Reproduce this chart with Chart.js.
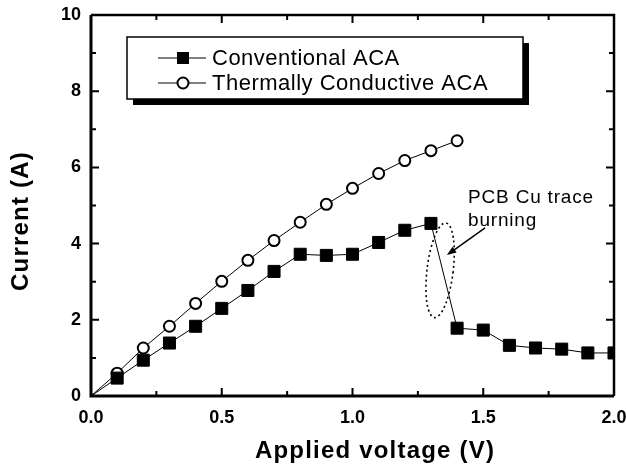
<!DOCTYPE html>
<html>
<head>
<meta charset="utf-8">
<script src="https://cdn.jsdelivr.net/npm/chart.js@4.4.1/dist/chart.umd.min.js"></script>
<style>
  html, body { margin: 0; padding: 0; background: #fff; }
</style>
</head>
<body>
<canvas id="ivChart" width="626" height="471"></canvas>
<script>
// values
const voltage = [0.0, 0.1, 0.2, 0.3, 0.4, 0.5, 0.6, 0.7, 0.8, 0.9, 1.0, 1.1, 1.2, 1.3, 1.4, 1.5, 1.6, 1.7, 1.8, 1.9, 2.0];
const conventionalACA = [0, 0.47, 0.94, 1.39, 1.83, 2.30, 2.77, 3.27, 3.72, 3.69, 3.72, 4.03, 4.35, 4.53, 1.78, 1.73, 1.33, 1.26, 1.23, 1.13, 1.13];
const thermalVoltage = [0.0, 0.1, 0.2, 0.3, 0.4, 0.5, 0.6, 0.7, 0.8, 0.9, 1.0, 1.1, 1.2, 1.3, 1.4];
const thermalACA = [0, 0.60, 1.26, 1.83, 2.43, 3.01, 3.56, 4.08, 4.56, 5.03, 5.45, 5.84, 6.18, 6.44, 6.70];
const seriesNames = ['Conventional ACA', 'Thermally Conductive ACA'];
const xTickLabels = ['0.0', '0.5', '1.0', '1.5', '2.0'];
const yTickLabels = ['0', '2', '4', '6', '8', '10'];
const noteLines = ['PCB Cu trace', 'burning'];

const FONT = "'Liberation Sans', Arial, Helvetica, sans-serif";

function toPoints(xs, ys) {
    return xs.map((x, i) => ({ x: x, y: ys[i] }));
}

// keep the plot box where the figure has it, whatever the label overhang
function fixScale(scale, size) {
    if (scale.isHorizontal()) scale.height = size; else scale.width = size;
    scale.paddingTop = 0;
    scale.paddingBottom = 0;
    scale.paddingLeft = 0;
    scale.paddingRight = 0;
}

// frame with inward ticks on all four sides, boxed legend and the burning note
const figureExtras = {
    id: 'figureExtras',
    afterDraw(chart) {
        const ctx = chart.ctx;
        const a = chart.chartArea;
        const sx = chart.scales.x, sy = chart.scales.y;
        ctx.save();
        ctx.strokeStyle = '#000';

        // ticks
        ctx.lineWidth = 2;
        for (let v = 0.25; v < 2; v += 0.25) {
            const px = sx.getPixelForValue(v);
            const len = Math.abs(v / 0.5 - Math.round(v / 0.5)) < 1e-6 ? 8 : 5;
            ctx.beginPath();
            ctx.moveTo(px, a.bottom); ctx.lineTo(px, a.bottom - len);
            ctx.moveTo(px, a.top); ctx.lineTo(px, a.top + len);
            ctx.stroke();
        }
        for (let v = 1; v < 10; v += 1) {
            const py = sy.getPixelForValue(v);
            const len = v % 2 === 0 ? 8 : 5;
            ctx.beginPath();
            ctx.moveTo(a.left, py); ctx.lineTo(a.left + len, py);
            ctx.moveTo(a.right, py); ctx.lineTo(a.right - len, py);
            ctx.stroke();
        }

        // frame
        ctx.lineWidth = 3;
        ctx.beginPath();
        ctx.moveTo(a.left, a.top); ctx.lineTo(a.left, a.bottom); ctx.lineTo(a.right, a.bottom);
        ctx.stroke();
        ctx.lineWidth = 2.5;
        ctx.beginPath();
        ctx.moveTo(a.left, a.top); ctx.lineTo(a.right, a.top); ctx.lineTo(a.right, a.bottom);
        ctx.stroke();

        // legend box with drop shadow along right and bottom
        const bx = a.left + 36, by = a.top + 22, bw = 396, bh = 62;
        ctx.fillStyle = '#000';
        ctx.fillRect(bx + bw, by + 6, 6, bh);
        ctx.fillRect(bx + 6, by + bh, bw, 6);
        ctx.fillStyle = '#fff';
        ctx.fillRect(bx, by, bw, bh);
        ctx.lineWidth = 1.5;
        ctx.strokeRect(bx, by, bw, bh);

        ctx.font = '22px ' + FONT;
        ctx.letterSpacing = '0.5px';
        ctx.textBaseline = 'middle';
        ctx.textAlign = 'left';
        seriesNames.forEach((name, i) => {
            const ly = by + 21 + i * 25;
            ctx.lineWidth = 1;
            ctx.beginPath();
            ctx.moveTo(bx + 31, ly); ctx.lineTo(bx + 79, ly);
            ctx.stroke();
            if (i === 0) {
                ctx.fillStyle = '#000';
                ctx.fillRect(bx + 56 - 6, ly - 6, 12, 12);
            } else {
                ctx.fillStyle = '#fff';
                ctx.lineWidth = 2;
                ctx.beginPath();
                ctx.arc(bx + 56, ly, 5.5, 0, Math.PI * 2);
                ctx.fill();
                ctx.stroke();
            }
            ctx.fillStyle = '#000';
            ctx.fillText(name, bx + 85, ly + 1);
        });

        // annotation: dotted ellipse round the drop, arrow and label
        ctx.save();
        ctx.lineWidth = 1.6;
        ctx.setLineDash([2, 3]);
        const ex = sx.getPixelForValue(1.335), ey = sy.getPixelForValue(3.30);
        const rx = sx.getPixelForValue(1.335 + 0.05) - ex;
        const ry = sy.getPixelForValue(3.30) - sy.getPixelForValue(3.30 + 1.25);
        ctx.beginPath();
        ctx.ellipse(ex, ey, rx, ry, 0.12, 0, Math.PI * 2);
        ctx.stroke();
        ctx.restore();

        const tx = sx.getPixelForValue(1.507), ty = sy.getPixelForValue(4.41);
        const hx = sx.getPixelForValue(1.361), hy = sy.getPixelForValue(3.70);
        const ang = Math.atan2(hy - ty, hx - tx);
        ctx.fillStyle = '#000';
        ctx.lineWidth = 1.5;
        ctx.beginPath();
        ctx.moveTo(tx, ty); ctx.lineTo(hx - 6 * Math.cos(ang), hy - 6 * Math.sin(ang));
        ctx.stroke();
        ctx.beginPath();
        ctx.moveTo(hx, hy);
        ctx.lineTo(hx - 10 * Math.cos(ang - 0.35), hy - 10 * Math.sin(ang - 0.35));
        ctx.lineTo(hx - 10 * Math.cos(ang + 0.35), hy - 10 * Math.sin(ang + 0.35));
        ctx.closePath();
        ctx.fill();

        ctx.font = '19px ' + FONT;
        ctx.letterSpacing = '0.8px';
        ctx.textBaseline = 'alphabetic';
        const nx = sx.getPixelForValue(1.442);
        ctx.fillText(noteLines[0], nx, sy.getPixelForValue(5.07));
        ctx.fillText(noteLines[1], nx, sy.getPixelForValue(4.46));

        // axis titles
        ctx.font = 'bold 24px ' + FONT;
        ctx.letterSpacing = '1.2px';
        ctx.textAlign = 'center';
        ctx.textBaseline = 'middle';
        ctx.fillText('Applied voltage (V)', a.left + 284, a.bottom + 55);
        ctx.translate(21, a.top + 206);
        ctx.rotate(-Math.PI / 2);
        ctx.fillText('Current (A)', 0, 0);
        ctx.restore();
    }
};

const chart = new Chart(document.getElementById('ivChart').getContext('2d'), {
    type: 'line',
    data: {
        datasets: [
            {
                label: seriesNames[0],
                data: toPoints(voltage, conventionalACA),
                borderColor: '#000',
                borderWidth: 1,
                pointStyle: 'rect',
                pointRadius: ctx => ctx.dataIndex === 0 ? 3 : 8.5,
                pointBackgroundColor: ctx => ctx.dataIndex === 0 ? '#fff' : '#000',
                pointBorderColor: '#000',
                pointBorderWidth: 1,
                tension: 0
            },
            {
                label: seriesNames[1],
                data: toPoints(thermalVoltage, thermalACA),
                borderColor: '#000',
                borderWidth: 1,
                pointStyle: 'circle',
                pointRadius: ctx => ctx.dataIndex === 0 ? 0 : 5.5,
                pointBackgroundColor: '#fff',
                pointBorderColor: '#000',
                pointBorderWidth: 2,
                tension: 0
            }
        ]
    },
    options: {
        responsive: false,
        animation: false,
        events: [],
        layout: { padding: { top: 15, right: 12, left: 0, bottom: 0 } },
        plugins: {
            legend: { display: false },
            tooltip: { enabled: false }
        },
        scales: {
            x: {
                type: 'linear',
                min: 0,
                max: 2,
                grid: { display: false, drawTicks: false },
                border: { display: false },
                afterFit: scale => fixScale(scale, 75),
                ticks: {
                    stepSize: 0.5,
                    padding: 11,
                    color: '#000',
                    font: { family: FONT, size: 18, weight: 'bold' },
                    callback: (v, i) => xTickLabels[i]
                }
            },
            y: {
                min: 0,
                max: 10,
                grid: { display: false, drawTicks: false },
                border: { display: false },
                afterFit: scale => fixScale(scale, 91),
                ticks: {
                    stepSize: 2,
                    padding: 10,
                    color: '#000',
                    font: { family: FONT, size: 18, weight: 'bold' },
                    callback: (v, i) => yTickLabels[i]
                }
            }
        }
    },
    plugins: [figureExtras]
});
</script>
</body>
</html>
